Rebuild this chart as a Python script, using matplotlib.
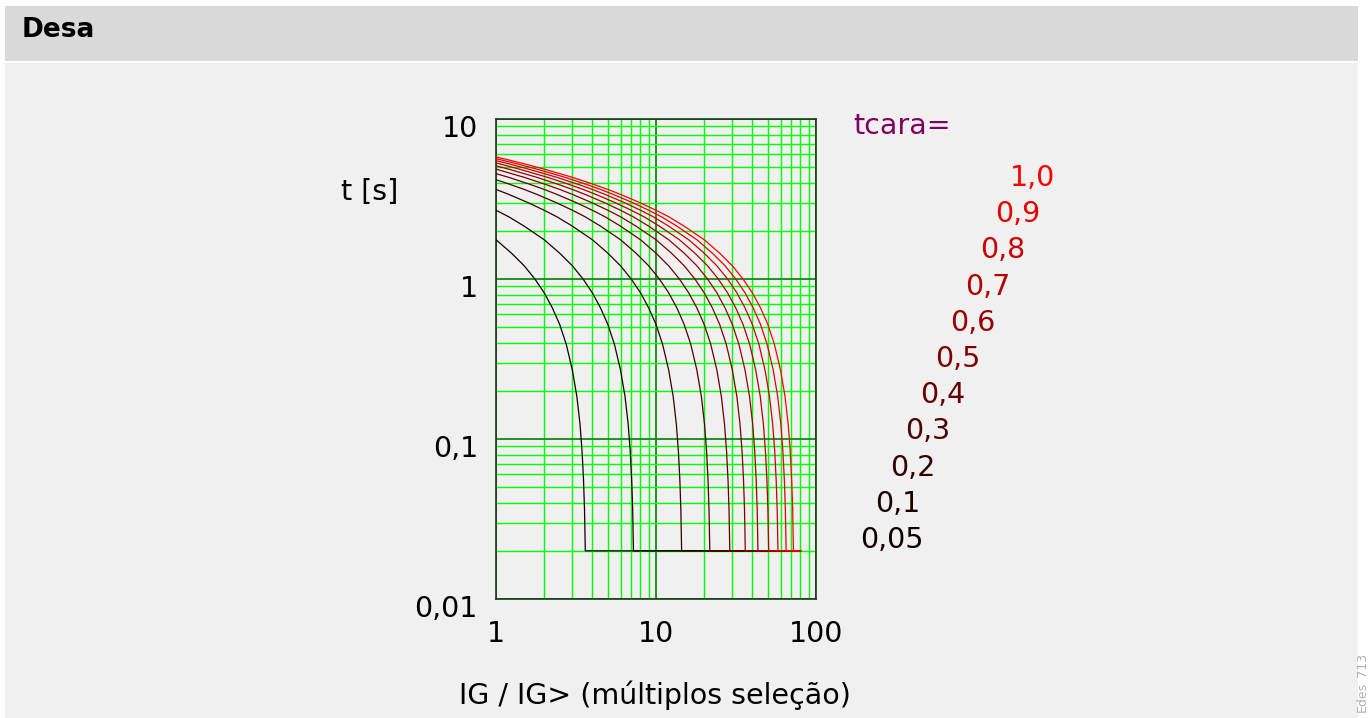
import matplotlib.pyplot as plt
import matplotlib.patches as patches
import matplotlib.transforms as mtransforms
import numpy as np

# tcara multipliers (curves shift right on the log x axis with tcara)
tcara = [0.05, 0.1, 0.2, 0.3, 0.4, 0.5, 0.6, 0.7, 0.8, 0.9, 1.0]
tcara_labels = ["0,05", "0,1", "0,2", "0,3", "0,4", "0,5", "0,6", "0,7", "0,8", "0,9", "1,0"]

base_x = [1, 1.5, 2, 3, 4, 5, 6, 8, 10, 12, 15, 20, 25, 30, 35, 40, 45, 50,
          55, 60, 64, 67, 69, 70.5, 71.5, 72.3]
base_t = [5.80, 5.25, 4.86, 4.32, 3.93, 3.63, 3.38, 2.99, 2.69, 2.45, 2.14, 1.76,
          1.45, 1.21, 1.00, 0.82, 0.66, 0.52, 0.39, 0.27, 0.185, 0.124, 0.084,
          0.055, 0.036, 0.02]
t_min = 0.02
x_end = 80

x_ticks = [1, 10, 100]
x_ticklabels = ["1", "10", "100"]
y_ticks = [0.01, 0.1, 1, 10]
y_ticklabels = ["0,01", "0,1", "1", "10"]

W, H = 1368, 718
fs = 20.5
fig = plt.figure(figsize=(W / 100, H / 100), dpi=100)
fig.patch.set_facecolor("white")

# header band and panel
fig.add_artist(patches.Rectangle((5 / W, 1 - 61 / H), 1353 / W, 55 / H,
                                 transform=fig.transFigure, facecolor="#d9d9d9",
                                 edgecolor="none", zorder=0))
fig.add_artist(patches.Rectangle((5 / W, 0), 1353 / W, 1 - 63 / H,
                                 transform=fig.transFigure, facecolor="#f0f0f0",
                                 edgecolor="none", zorder=0))
fig.text(22 / W, 1 - 30 / H, "Desa", fontsize=19, fontweight="bold",
         va="center", ha="left")

ax = fig.add_axes([496 / W, 1 - 599 / H, 320 / W, 480 / H])
ax.set_facecolor("#f0f0f0")
ax.set_xscale("log")
ax.set_yscale("log")
ax.set_xlim(1, 100)
ax.set_ylim(0.01, 10)

ax.grid(True, which="minor", color="#00ff00", linewidth=1.0)
ax.grid(True, which="major", color="#108a10", linewidth=1.3)
ax.set_axisbelow(True)

for i, k in enumerate(tcara):
    xs = [k * u for u in base_x] + [x_end]
    ts = base_t + [t_min]
    ax.plot(xs, ts, color=(k, 0, 0), linewidth=0.9, zorder=3)

ax.set_xticks(x_ticks)
ax.set_xticklabels(x_ticklabels)
ax.set_yticks(y_ticks)
ax.set_yticklabels(y_ticklabels)
ax.tick_params(which="both", length=0)
ax.tick_params(axis="x", labelsize=fs, pad=15)
ax.tick_params(axis="y", labelsize=fs, pad=13)
shift = mtransforms.ScaledTranslation(0, -0.07, fig.dpi_scale_trans)
for lbl in ax.get_yticklabels():
    lbl.set_transform(lbl.get_transform() + shift)
for s in ax.spines.values():
    s.set_color("#1a3a1a")
    s.set_linewidth(1.2)

fig.text(370 / W, 1 - 192 / H, "t [s]", fontsize=fs, ha="center", va="center")
fig.text(655 / W, 1 - 695 / H, "IG / IG> (múltiplos seleção)", fontsize=fs,
         ha="center", va="center")

fig.text(853 / W, 1 - 126 / H, "tcara=", fontsize=fs, color="#800060",
         ha="left", va="center")
for i, k in enumerate(tcara):
    j = len(tcara) - 1 - i
    fig.text((1010 - 15 * j) / W, 1 - (178 + 36.2 * j) / H, tcara_labels[i],
             fontsize=fs, color=(k, 0, 0), ha="left", va="center")

fig.text(1361 / W, 1 - 712 / H, "Edes_713", fontsize=9, color="#b0b0b0",
         rotation=90, ha="center", va="bottom")

fig.savefig("out.png", dpi=100, facecolor=fig.get_facecolor())
